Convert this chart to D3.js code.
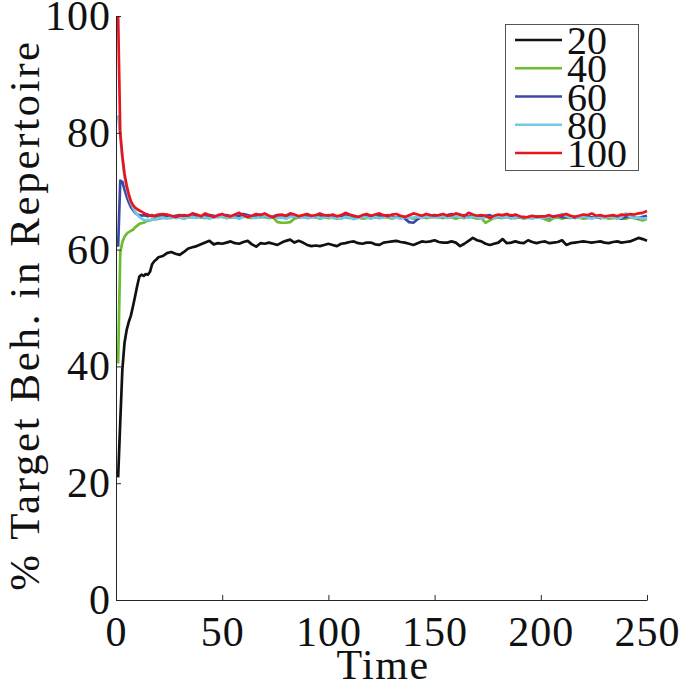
<!DOCTYPE html>
<html>
<head>
<meta charset="utf-8">
<script src="https://cdn.jsdelivr.net/npm/d3@7"></script>
<style>
  html, body { margin: 0; padding: 0; background: #fff; }
  svg { display: block; }
</style>
</head>
<body>
<svg id="chart" width="679" height="681"></svg>
<script>
// ---------- data ----------
const seriesNames = ["20", "40", "60", "80", "100"];
const seriesColors = ["#111111", "#6cbd2e", "#3b49a3", "#72c8e6", "#e8151f"];
const xTicks = [0, 50, 100, 150, 200, 250];
const yTicks = [0, 20, 40, 60, 80, 100];
const xLabel = "Time";
const yLabel = "% Target Beh. in Repertoire";

// sampling grid: t = 1..20, then every 2 steps up to 250
const times = d3.range(1, 21).concat(d3.range(22, 251, 2));

const s20 = [21, 30.5, 39.5, 44, 46.2, 47.6, 48.7, 50.3, 52, 53.8, 55.4, 55.7, 55.5, 55.8, 55.7, 56.2, 57.5, 58, 58.3, 58.7,
  58.9, 59.4, 59.6, 59.3, 59.1, 59.6, 60.2, 60.4, 60.6, 60.9, 61.2, 61.5, 60.9, 61.1, 61.0, 61.2, 61.4, 61.1, 61.0, 61.3,
  61.5, 60.9, 60.5, 61.1, 61.0, 61.2, 61.0, 60.8, 61.2, 61.5, 61.7, 61.2, 61.5, 61.2, 60.8, 60.6, 60.7, 60.6, 60.8, 61.0,
  60.8, 60.6, 61.0, 61.1, 61.3, 61.4, 61.1, 61.0, 61.2, 61.2, 60.9, 60.8, 61.2, 61.3, 61.4, 61.5, 61.3, 61.2, 61.0, 60.8,
  61.1, 61.4, 61.3, 61.4, 61.6,
  61.3, 61.2, 61.2, 61.4, 61.2, 60.6, 61.0, 61.5, 62.0, 61.6, 61.4, 61.0, 60.8, 61.0, 61.2, 61.8, 61.1, 61.2, 61.4, 61.2,
  61.1, 61.6, 61.3, 61.1, 61.3,
  61.4, 61.1, 61.2, 61.3, 61.6, 60.8, 61.1, 61.2, 61.3, 61.4, 61.3, 61.2, 61.3, 61.4, 61.2, 61.1, 61.3, 61.4, 61.2, 61.3,
  61.4, 61.7, 62.0, 61.8, 61.5];

const s40 = [40.5, 59.5, 61.3, 62.2, 62.7, 63.0, 63.2, 63.4, 63.8, 64.1, 64.4, 64.5, 64.6, 64.8, 64.9, 65.0, 65.1, 65.2, 65.2, 65.3,
  65.4, 65.5, 65.4, 65.6, 65.5, 65.3, 65.6, 65.5, 65.7, 65.5, 65.4, 65.6, 65.5, 65.7, 65.6, 65.4, 65.5, 65.6, 65.5, 65.7,
  65.5, 65.4, 65.6, 65.5, 65.6, 65.4, 65.5, 64.7, 64.6, 64.6, 64.7, 65.3, 65.5, 65.6, 65.4, 65.5, 65.6, 65.3, 65.5, 65.4,
  65.5, 65.3, 65.6, 65.5, 65.4, 65.6, 65.5, 65.3, 65.4, 65.6, 65.5, 65.4, 65.6, 65.5, 65.3, 65.5, 65.6, 65.4, 65.5, 65.3,
  65.5, 65.6, 65.4, 65.5, 65.6,
  65.5, 65.4, 65.6, 65.5, 65.3, 65.5, 65.4, 65.6, 65.5, 65.3, 65.4, 64.6, 65.0, 65.4, 65.5, 65.4, 65.6, 65.5, 65.4, 65.5,
  65.3, 65.5, 65.4, 65.6, 65.5,
  65.2, 64.9, 65.4, 65.5, 65.3, 65.5, 65.4, 65.6, 65.5, 65.3, 65.4, 65.5, 65.6, 65.4, 65.5, 65.3, 65.4, 65.5, 65.4, 65.3,
  65.5, 65.4, 65.2, 65.0, 65.3];

const s60 = [60.5, 71.8, 71.6, 70.3, 69.1, 68.1, 67.3, 66.8, 66.3, 66.0, 65.9, 65.8, 65.9, 65.8, 65.7, 65.8, 65.9, 65.7, 65.6, 65.8,
  65.9, 65.7, 65.6, 65.8, 65.9, 65.7, 65.8, 66.0, 65.8, 65.6, 65.7, 65.9, 65.8, 65.6, 65.8, 65.9, 65.7, 65.6, 65.8, 66.1,
  65.9, 65.7, 65.8, 66.0, 65.7, 65.5, 65.7, 65.9, 65.8, 65.6, 65.8, 65.7, 65.5, 65.8, 65.9, 65.7, 65.6, 65.8, 65.7, 65.9,
  65.8, 65.6, 65.7, 65.9, 65.8, 65.7, 65.5, 65.8, 65.9, 65.7, 65.6, 65.8, 65.7, 65.9, 65.6, 65.5, 65.7, 65.3, 64.7, 64.6,
  65.2, 65.6, 65.8, 65.7, 65.9,
  65.8, 65.6, 65.9, 66.1, 65.8, 65.7, 65.9, 65.6, 65.8, 65.7, 65.5, 65.8, 65.9, 65.6, 65.7, 65.8, 65.6, 65.9, 65.7, 65.5,
  65.6, 65.4, 65.6, 65.7, 65.5,
  65.6, 65.4, 65.7, 65.8, 65.6, 65.5, 65.7, 65.4, 65.6, 65.8, 65.7, 65.5, 65.6, 65.4, 65.7, 65.6, 65.8, 65.5, 65.3, 65.6,
  65.7, 65.5, 65.4, 65.6, 65.8];

const s80 = [83, 79.5, 75.5, 72.5, 70.5, 69, 68, 67.2, 66.5, 66.0, 65.6, 65.3, 65.1, 65.0, 65.1, 65.0, 65.2, 65.1, 65.3, 65.4,
  65.5, 65.3, 65.6, 65.4, 65.5, 65.3, 65.5, 65.6, 65.4, 65.6, 65.5, 65.3, 65.6, 65.5, 65.7, 65.4, 65.6, 65.5, 65.3, 65.6,
  65.7, 65.5, 65.4, 65.6, 65.8, 65.5, 65.6, 65.4, 65.5, 65.3, 65.6, 65.7, 65.5, 65.6, 65.4, 65.5, 65.7, 65.4, 65.5, 65.6,
  65.4, 65.5, 65.3, 65.6, 65.5, 65.2, 65.4, 65.6, 65.5, 65.3, 65.6, 65.4, 65.5, 65.7, 65.4, 65.5, 65.3, 65.6, 65.4, 65.5,
  65.6, 65.4, 65.7, 65.5, 65.6,
  65.5, 65.7, 65.4, 65.6, 65.8, 65.5, 65.6, 65.4, 65.7, 65.5, 65.3, 65.6, 65.5, 65.4, 65.7, 65.5, 65.6, 65.3, 65.5, 65.6,
  65.4, 65.5, 65.3, 65.6, 65.4,
  65.5, 65.6, 65.4, 65.8, 66.1, 65.7, 65.5, 65.6, 65.4, 65.7, 65.5, 65.3, 65.6, 65.5, 65.4, 65.6, 65.5, 65.3, 65.5, 66.2,
  65.6, 65.4, 65.5, 65.3, 65.4];

const s100 = [100, 80, 76, 73, 71, 69.5, 68.3, 67.6, 67.2, 66.9, 66.7, 66.5, 66.3, 66.1, 66.0, 65.8, 65.7, 65.8, 65.9, 66.0,
  66.1, 66.0, 65.8, 65.6, 65.8, 65.9, 65.8, 66.2, 66.0, 65.7, 66.2, 65.9, 65.6, 65.9, 66.1, 65.8, 65.7, 66.0, 66.3, 65.9,
  65.6, 65.8, 66.1, 65.9, 66.2, 65.8, 65.5, 65.9, 66.0, 65.8, 66.2, 66.0, 65.7, 65.9, 66.1, 65.8, 65.9, 66.2, 65.9, 65.8,
  66.0, 65.7, 65.9, 66.3, 66.0, 65.8, 65.6, 65.9, 66.1, 65.8, 66.0, 66.2, 65.9, 65.7, 66.0, 66.1, 65.8, 65.6, 65.9, 66.2,
  66.0, 65.8, 66.1, 65.9, 65.8,
  65.9, 66.1, 65.8, 65.9, 66.2, 66.0, 65.7, 66.3, 66.0, 65.8, 65.9, 65.8, 65.4, 65.8, 66.0, 65.9, 66.1, 65.8, 66.0, 65.7,
  65.5, 65.6, 65.8, 65.6, 65.7,
  65.7, 65.9, 65.6, 65.8, 65.9, 66.1, 65.8, 65.6, 65.8, 66.0, 65.9, 66.2, 65.8, 65.9, 65.7, 65.8, 65.9, 65.7, 66.0, 65.9,
  66.1, 66.0, 66.2, 66.3, 66.6];

const seriesValues = [s20, s40, s60, s80, s100];

// ---------- layout ----------
const SERIF = "'Liberation Serif', 'DejaVu Serif', 'Noto Serif', serif";
const svg = d3.select("#chart");
const FS = 42;
const x = d3.scaleLinear().domain([0, 250]).range([116, 647]);
const y = d3.scaleLinear().domain([0, 100]).range([600, 16]);

const line = d3.line()
  .x((d, i) => x(times[i]))
  .y(d => y(d));

// lines
svg.append("g").selectAll("path")
  .data(seriesValues)
  .join("path")
  .attr("d", d => line(d))
  .attr("fill", "none")
  .attr("stroke", (d, i) => seriesColors[i])
  .attr("stroke-width", 2.7)
  .attr("stroke-linejoin", "round");

// axes
const xAxis = d3.axisBottom(x).tickValues(xTicks).tickSizeInner(-5).tickSizeOuter(0).tickPadding(16);
const yAxis = d3.axisLeft(y).tickValues(yTicks).tickSizeInner(-5).tickSizeOuter(0).tickPadding(5);

const gx = svg.append("g").attr("transform", "translate(0,600)").call(xAxis);
const gy = svg.append("g").attr("transform", "translate(116,0)").call(yAxis);
[gx, gy].forEach(g => {
  g.attr("font-family", null).attr("font-size", null);
  g.select(".domain").attr("stroke", "#262626").attr("stroke-width", 1);
  g.selectAll(".tick line").attr("stroke", "#262626").attr("stroke-width", 1);
  g.selectAll(".tick text").style("font-family", SERIF).style("font-size", FS + "px")
    .style("letter-spacing", "1px").attr("fill", "#111");
});

// axis titles
svg.append("text")
  .attr("x", 383).attr("y", 679)
  .attr("text-anchor", "middle")
  .style("font-family", SERIF).style("font-size", FS + "px")
  .style("letter-spacing", "1.5px")
  .attr("fill", "#111")
  .text(xLabel);

svg.append("text")
  .attr("transform", "translate(39,315) rotate(-90)")
  .attr("text-anchor", "middle")
  .style("font-family", SERIF).style("font-size", "43px")
  .style("letter-spacing", "2.6px")
  .attr("fill", "#111")
  .text(yLabel);

// legend
const lg = svg.append("g");
lg.append("rect")
  .attr("x", 505.5).attr("y", 24.5).attr("width", 133).attr("height", 146)
  .attr("fill", "#fff").attr("stroke", "#555").attr("stroke-width", 1);
const rowY = d3.scaleLinear().domain([0, 4]).range([40, 153]);
seriesNames.forEach((name, i) => {
  lg.append("line")
    .attr("x1", 515).attr("x2", 562)
    .attr("y1", rowY(i)).attr("y2", rowY(i))
    .attr("stroke", seriesColors[i]).attr("stroke-width", 2.7);
  lg.append("text")
    .attr("x", 567).attr("y", rowY(i) + 14)
    .style("font-family", SERIF).style("font-size", "40px")
    .attr("fill", "#111")
    .text(name);
});
</script>
</body>
</html>
